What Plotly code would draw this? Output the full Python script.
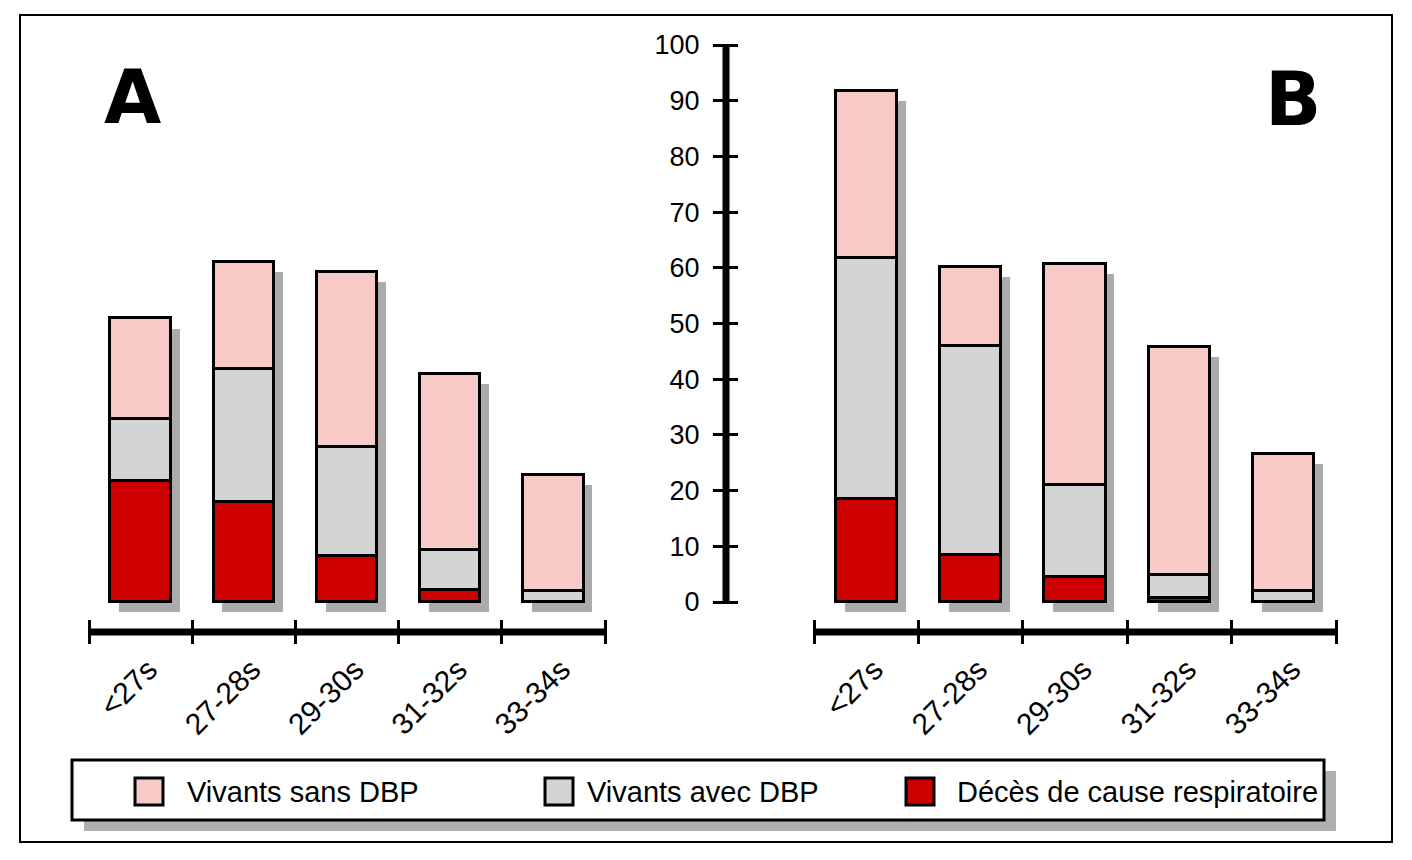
import plotly.graph_objects as go

# page offset (browser body margin) compensation
OFF = 8
W, H = 1412 - OFF, 860 - OFF

categories = ["<27s", "27-28s", "29-30s", "31-32s", "33-34s"]
series_names = ["Vivants sans DBP", "Vivants avec DBP", "Décès de cause respiratoire"]

A_deces = [21.8, 18.0, 8.3, 2.2, 0]
A_avec = [11.1, 23.9, 19.6, 7.2, 2.0]
A_sans = [18.0, 19.1, 31.3, 31.6, 20.8]

B_deces = [18.5, 8.5, 4.5, 0.8, 0]
B_avec = [43.2, 37.4, 16.5, 4.1, 2.0]
B_sans = [30.0, 14.2, 39.6, 40.8, 24.6]

y_ticks = list(range(0, 101, 10))

PINK = "#f7cac8"
GRAY = "#d4d4d4"
RED = "#cc0000"
SHADOW = "#ababab"
FONT = "Liberation Sans"


def px(x):
    return (x - OFF) / W


def py(y):
    return 1 - (y - OFF) / H


fig = go.Figure()

BW = 0.585
SH_DX = 0.085
SH_DY = 1.8


def add_panel(xa, deces, avec, sans):
    totals = [a + b + c for a, b, c in zip(deces, avec, sans)]
    fig.add_trace(go.Bar(x=categories, y=totals, base=[-SH_DY] * len(categories),
                         width=BW, offset=-BW / 2 + SH_DX,
                         marker=dict(color=SHADOW, line=dict(width=0)),
                         xaxis=xa, yaxis="y", showlegend=False, hoverinfo="skip"))
    base_g = list(deces)
    base_p = [a + b for a, b in zip(deces, avec)]
    for vals, base, col, name in [(deces, [0] * len(categories), RED, series_names[2]),
                                  (avec, base_g, GRAY, series_names[1]),
                                  (sans, base_p, PINK, series_names[0])]:
        fig.add_trace(go.Bar(x=categories, y=vals, base=base, width=BW, offset=-BW / 2,
                             marker=dict(color=col, line=dict(color="black", width=3)),
                             name=name, xaxis=xa, yaxis="y", showlegend=False))


add_panel("x", A_deces, A_avec, A_sans)
add_panel("x2", B_deces, B_avec, B_sans)

y0_px, y100_px = 602, 45
unit = (y0_px - y100_px) / 100
y_range = [-3, 100]
ydom = [py(y0_px + 3 * unit), py(y100_px)]

AX_Y = 632      # x-axis line pixel row
YAX_X = 726     # y-axis line pixel column
A_DOM = (89, 605)
B_DOM = (814, 1336)

x_axis = dict(type="category", categoryorder="array", categoryarray=categories,
              range=[-0.5, len(categories) - 0.5], anchor="free", position=py(619),
              showline=False, tickson="boundaries", ticks="outside", ticklen=24,
              tickwidth=3, tickcolor="black", tickangle=-45, ticklabelstandoff=26,
              ticklabelshift=8,
              showgrid=False, zeroline=False, automargin=False,
              tickfont=dict(family=FONT, size=30, color="black"), fixedrange=True)

fig.update_layout(
    width=W, height=H,
    margin=dict(l=0, r=0, t=0, b=0, autoexpand=False),
    paper_bgcolor="white", plot_bgcolor="rgba(0,0,0,0)",
    barmode="overlay", bargap=0,
    showlegend=False,
    xaxis=dict(domain=[px(A_DOM[0]), px(A_DOM[1])], **x_axis),
    xaxis2=dict(domain=[px(B_DOM[0]), px(B_DOM[1])], **x_axis),
    yaxis=dict(domain=ydom, range=y_range, anchor="free", position=px(YAX_X + 12),
               side="left", showline=False, tickmode="array", tickvals=y_ticks,
               ticks="outside", ticklen=25, tickwidth=3, tickcolor="black",
               ticklabelstandoff=8, showgrid=False, zeroline=False, automargin=False,
               tickfont=dict(family=FONT, size=27, color="black"), fixedrange=True),
)

shapes = []
# axis lines
shapes.append(dict(type="line", xref="paper", yref="y", x0=px(YAX_X), x1=px(YAX_X),
                   y0=0, y1=100, line=dict(color="black", width=7)))
for dom in (A_DOM, B_DOM):
    shapes.append(dict(type="line", xref="paper", yref="paper", x0=px(dom[0]), x1=px(dom[1]),
                       y0=py(AX_Y), y1=py(AX_Y), line=dict(color="black", width=7)))
# outer frame
shapes.append(dict(type="rect", xref="paper", yref="paper", x0=px(20), x1=px(1392),
                   y0=py(842), y1=py(15), line=dict(color="black", width=2)))
# legend box shadow and box
shapes.append(dict(type="rect", xref="paper", yref="paper", x0=px(84), x1=px(1336),
                   y0=py(831), y1=py(771), line=dict(width=0), fillcolor="#b0b0b0"))
shapes.append(dict(type="rect", xref="paper", yref="paper", x0=px(72), x1=px(1324),
                   y0=py(820), y1=py(760), line=dict(color="black", width=3),
                   fillcolor="white"))

annotations = []
leg_items = [(series_names[0], PINK, 135, 187), (series_names[1], GRAY, 545, 587),
             (series_names[2], RED, 906, 957)]
for name, col, x0, tx in leg_items:
    shapes.append(dict(type="rect", xref="paper", yref="paper", x0=px(x0), x1=px(x0 + 28),
                       y0=py(805), y1=py(778), line=dict(color="black", width=3),
                       fillcolor=col))
    annotations.append(dict(xref="paper", yref="paper", x=px(tx), y=py(792),
                            text=name, showarrow=False, xanchor="left", yanchor="middle",
                            xshift=-2, font=dict(family=FONT, size=29, color="black")))

for letter, cx, cy in [("A", 132, 97), ("B", 1293, 99)]:
    annotations.append(dict(xref="paper", yref="paper", x=px(cx), y=py(cy),
                            text="<b>" + letter + "</b>", showarrow=False,
                            xanchor="center", yanchor="middle",
                            font=dict(family="DejaVu Sans", size=74, color="black")))

fig.update_layout(shapes=shapes, annotations=annotations)

fig.write_html("out.html")
